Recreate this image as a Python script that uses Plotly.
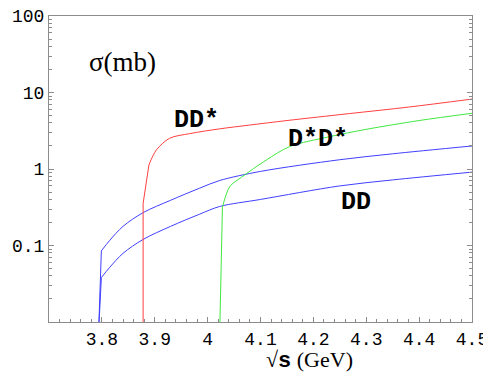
import plotly.graph_objects as go

# cross sections (sqrt(s) in GeV, sigma in mb)
dd_hi_x = [3.794, 3.799, 3.815, 3.84, 3.878, 3.93, 3.985, 4.023, 4.1, 4.249, 4.35, 4.5]
dd_hi_y = [0.008, 0.085, 0.117, 0.178, 0.269, 0.39, 0.562, 0.708, 0.93, 1.32, 1.58, 2.0]

dd_lo_x = [3.794, 3.799, 3.815, 3.84, 3.878, 3.93, 3.985, 4.023, 4.1, 4.249, 4.35, 4.5]
dd_lo_y = [0.008, 0.038, 0.052, 0.079, 0.12, 0.178, 0.257, 0.324, 0.40, 0.60, 0.72, 0.91]

ddstar_x = [3.878, 3.878, 3.889, 3.903, 3.928, 3.966, 4.023, 4.079, 4.15, 4.268, 4.38, 4.5]
ddstar_y = [0.008, 0.355, 1.13, 1.77, 2.52, 2.9, 3.35, 3.75, 4.3, 5.3, 6.45, 8.2]

dsds_x = [4.023, 4.028, 4.042, 4.064, 4.111, 4.155, 4.23, 4.3, 4.4, 4.5]
dsds_y = [0.008, 0.316, 0.59, 0.78, 1.31, 1.96, 2.64, 3.3, 4.3, 5.35]

x_ticks = [3.8, 3.9, 4.0, 4.1, 4.2, 4.3, 4.4, 4.5]
x_labels = ["3.8", "3.9", "4", "4.1", "4.2", "4.3", "4.4", "4.5"]
y_ticks = [0.01, 0.1, 1, 10, 100]
y_labels = ["", "0.1", "1", "10", "100"]

frame = "#8c8c8c"
mono = "Liberation Mono"

fig = go.Figure()
# threshold jump drawn straight, the rest smoothed
curves = [(dd_hi_x, dd_hi_y, "#4040ff", 1), (dd_lo_x, dd_lo_y, "#4040ff", 1),
          (ddstar_x, ddstar_y, "#ff4040", 2), (dsds_x, dsds_y, "#40e840", 1)]
for xs, ys, col, k in curves:
    fig.add_trace(go.Scatter(x=xs[:k + 1], y=ys[:k + 1], mode="lines",
                             line=dict(color=col, width=1), showlegend=False))
    fig.add_trace(go.Scatter(x=xs[k:], y=ys[k:], mode="lines",
                             line=dict(color=col, width=1, shape="spline", smoothing=0.9),
                             showlegend=False))

fig.update_xaxes(range=[3.7, 4.5], tickvals=x_ticks, ticktext=x_labels, automargin=False,
                 showgrid=False, zeroline=False, showline=True, linecolor=frame,
                 linewidth=1, mirror=True, ticks="inside", ticklen=5, tickcolor=frame,
                 ticklabeloverflow="allow",
                 minor=dict(ticks="inside", ticklen=3, dtick=0.02, tick0=3.7,
                            tickcolor=frame, showgrid=False),
                 tickfont=dict(family=mono, size=18, color="black"))
fig.update_yaxes(type="log", range=[-2, 2], tickvals=y_ticks, ticktext=y_labels,
                 automargin=False, ticklabeloverflow="allow",
                 showgrid=False, zeroline=False, showline=True, linecolor=frame,
                 linewidth=1, mirror="ticks", ticks="inside", ticklen=5, tickcolor=frame,
                 minor=dict(ticks="inside", ticklen=3, dtick="D1",
                            tickcolor=frame, showgrid=False),
                 tickfont=dict(family=mono, size=18, color="black"))

# log axis: annotation y is given as log10(sigma)
fig.add_annotation(x=0.173, y=0.85, xref="paper", yref="paper", showarrow=False,
                   xanchor="center", yanchor="middle",
                   text="σ(mb)", font=dict(family="Liberation Serif", size=27, color="black"))
fig.add_annotation(x=3.979, y=0.64, showarrow=False, text="<b>DD*</b>",
                   font=dict(family=mono, size=25, color="black"))
fig.add_annotation(x=4.208, y=0.38, showarrow=False, text="<b>D*D*</b>",
                   font=dict(family=mono, size=25, color="black"))
fig.add_annotation(x=4.281, y=-0.444, showarrow=False, text="<b>DD</b>",
                   font=dict(family=mono, size=25, color="black"))
fig.add_annotation(x=0.615, y=-0.127, xref="paper", yref="paper", showarrow=False,
                   xanchor="center", yanchor="middle",
                   text="√<span style='font-family:Liberation Mono'><b>s</b></span> (GeV)",
                   font=dict(family="Liberation Serif", size=22, color="black"))

# page body adds an 8px margin, so the figure is 8px smaller than the window
fig.update_layout(width=483, height=373, margin=dict(l=41, r=19, t=8, b=59),
                  plot_bgcolor="white", paper_bgcolor="white")
fig.write_html("out.html")
